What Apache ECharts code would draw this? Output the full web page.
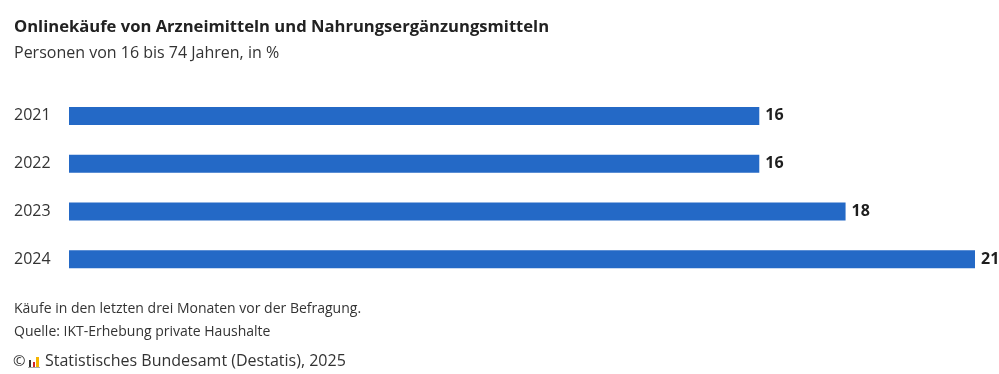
<!DOCTYPE html>
<html><head><meta charset="utf-8">
<script src="https://cdn.jsdelivr.net/npm/echarts@6/dist/echarts.min.js"></script>
<style>html,body{margin:0;padding:0;background:#fff}#c{width:999px;height:374px}</style>
</head><body><div id="c"></div>
<script>
const categories = ['2021', '2022', '2023', '2024'];
const values = [16, 16, 18, 21];
const titleText = 'Onlinekäufe von Arzneimitteln und Nahrungsergänzungsmitteln';
const subtitleText = 'Personen von 16 bis 74 Jahren, in %';
const note1 = 'Käufe in den letzten drei Monaten vor der Befragung.';
const note2 = 'Quelle: IKT-Erhebung private Haushalte';
const credit = 'Statistisches Bundesamt (Destatis), 2025';
const FONT = '"Open Sans", "Noto Sans", sans-serif';
const chart = echarts.init(document.getElementById('c'), null, {renderer: 'canvas'});
chart.setOption({
  animation: false,
  backgroundColor: '#ffffff',
  grid: {left: 69, right: 24, top: 92, bottom: 91, containLabel: false},
  xAxis: {type: 'value', min: 0, max: 21, show: false},
  yAxis: {
    type: 'category', data: categories, inverse: true,
    axisLine: {show: false}, axisTick: {show: false},
    axisLabel: {color: '#333', fontSize: 16, fontFamily: FONT, align: 'left', margin: 55, padding: [4, 0, 0, 0]}
  },
  series: [{
    type: 'bar', data: values, barWidth: 18, itemStyle: {color: '#2469c6'},
    label: {show: true, position: 'right', distance: 6, color: '#1e1e1e', fontSize: 16, fontWeight: 'bold', fontFamily: FONT, padding: [3, 0, 0, 0]}
  }],
  graphic: [
    {type: 'text', left: 14, top: 19, style: {text: titleText, fill: '#222', font: 'bold 16.6px ' + FONT}},
    {type: 'text', left: 14, top: 45, style: {text: subtitleText, fill: '#333', font: '16px ' + FONT}},
    {type: 'text', left: 14, top: 302, style: {text: note1, fill: '#333', font: '14px ' + FONT}},
    {type: 'text', left: 14, top: 325, style: {text: note2, fill: '#333', font: '14px ' + FONT}},
    {type: 'text', left: 13, top: 354, style: {text: '©', fill: '#333', font: '15px ' + FONT}},
    {type: 'rect', shape: {x: 29, y: 360, width: 2, height: 8}, style: {fill: '#333'}},
    {type: 'rect', shape: {x: 33, y: 362, width: 2, height: 6}, style: {fill: '#d2232a'}},
    {type: 'rect', shape: {x: 36, y: 357, width: 3, height: 11}, style: {fill: '#f5b400'}},
    {type: 'rect', shape: {x: 28, y: 367, width: 12, height: 1}, style: {fill: '#aaa'}},
    {type: 'text', left: 45, top: 353, style: {text: credit, fill: '#333', font: '16px ' + FONT}}
  ]
});
</script></body></html>
